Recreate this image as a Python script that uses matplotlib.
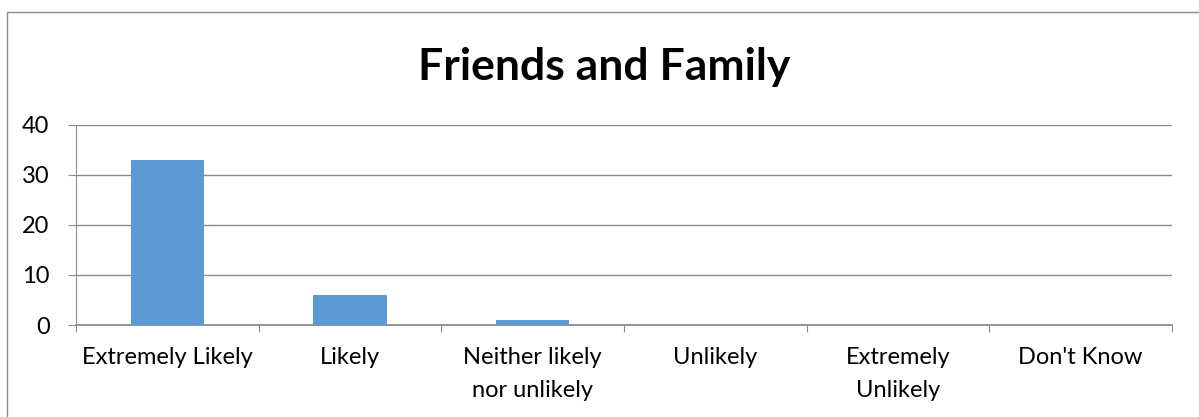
import matplotlib
matplotlib.use("Agg")
import matplotlib.pyplot as plt
from matplotlib.patches import Rectangle
import numpy as np

categories = ["Extremely Likely", "Likely", "Neither likely\nnor unlikely",
              "Unlikely", "Extremely\nUnlikely", "Don't Know"]
values = [33, 6, 1, 0, 0, 0]
yticks = [0, 10, 20, 30, 40]

plt.rcParams['font.family'] = ['Lato', 'DejaVu Sans']

W, H = 1199, 417
fig = plt.figure(figsize=(W / 100, H / 100), dpi=100)
fig.patch.set_facecolor('white')

# outer frame
fig.patches.append(Rectangle((7 / W, -0.1), 1.2, (H - 12) / H + 0.1,
                             transform=fig.transFigure, fill=False,
                             edgecolor='#8c8c8c', linewidth=1.0))

left, right, top, bottom = 76, 1172, 124.5, 325
ax = fig.add_axes([left / W, 1 - bottom / H, (right - left) / W, (bottom - top) / H])

x = np.arange(len(categories))
ax.bar(x, values, width=0.4, color='#5B9BD5', zorder=3)
ax.set_xlim(-0.5, len(categories) - 0.5)
ax.set_ylim(0, 40)
ax.set_yticks(yticks)
ax.yaxis.grid(True, color='#8c8c8c', linewidth=1.0, zorder=0)
for s in ['top', 'right']:
    ax.spines[s].set_visible(False)
ax.spines['left'].set_color('#8c8c8c')
ax.spines['bottom'].set_color('#8c8c8c')
ax.spines['bottom'].set_linewidth(1.3)

ax.set_xticks(np.arange(len(categories) + 1) - 0.5)
ax.set_xticklabels([])
ax.set_xticks(x, minor=True)
ax.set_xticklabels(categories, minor=True, fontsize=17)
ax.tick_params(axis='x', which='major', length=5, color='#8c8c8c', direction='out')
ax.tick_params(axis='x', which='minor', length=0, pad=16)
ax.tick_params(axis='y', length=6, color='#8c8c8c', labelsize=17, pad=13)
for lbl in ax.get_xticklabels(minor=True):
    lbl.set_verticalalignment('top')
    lbl.set_linespacing(1.7)

fig.text(604 / W, 1 - 67 / H, "Friends and Family",
         ha='center', va='center', fontsize=32, fontweight='bold')

fig.savefig("out.png", dpi=100)
